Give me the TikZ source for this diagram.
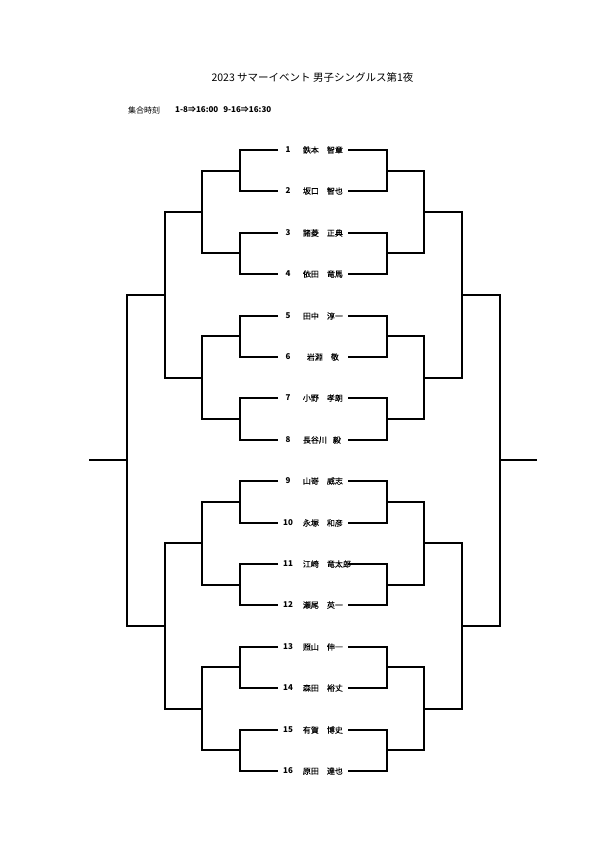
\documentclass[tikz,border=0pt]{standalone}
\usepackage{fontspec}
\setmainfont{Noto Sans CJK JP}
\newfontfamily\namefont[FakeBold=0.2]{Noto Sans CJK JP}
\begin{document}
\begin{tikzpicture}[x=1pt,y=-1pt,
  bracket/.style={line width=2.4pt, line join=miter},
  numtext/.style={inner sep=0pt, font=\fontsize{8}{9}\selectfont\bfseries},
  nametext/.style={inner sep=0pt, anchor=west, font=\namefont\fontsize{8}{9}\selectfont},
  titletext/.style={inner sep=0pt, font=\fontsize{10.5}{12}\selectfont},
  subtext/.style={inner sep=0pt, anchor=west, font=\fontsize{8}{9}\selectfont}]
\useasboundingbox (0,0) rectangle (600,849);
\fill[white] (0,0) rectangle (600,849);

% title and meeting times
\node[titletext] (title) at (312.5,77) {2023 サマーイベント 男子シングルス第1夜};
\node[subtext] (sub1) at (128,110) {集合時刻};
\node[subtext, font=\fontsize{8}{9}\selectfont\bfseries] (sub2) at (175,110) {1-8⇒16:00\hspace{5pt}9-16⇒16:30};

% players
\foreach \i/\sn/\gn/\dx/\gap in {
  1/鉄本/智章/0/8, 2/坂口/智也/0/8, 3/諸菱/正典/0/8, 4/依田/竜馬/0/8,
  5/田中/淳一/0/8, 6/岩淵/敬/4/8, 7/小野/孝朗/0/8, 8/長谷川/毅/0/6,
  9/山嵜/威志/0/8, 10/永塚/和彦/0/8, 11/江崎/竜太郎/0/8, 12/瀬尾/英一/0/8,
  13/照山/伸一/0/8, 14/森田/裕丈/0/8, 15/有賀/博史/0/8, 16/原田/達也/0/8} {
  \pgfmathsetmacro\yy{round(150+(\i-1)*41.4)}
  \node[numtext] (num\i) at (288,\yy) {\i};
  \node[nametext] (name\i) at (302.7+\dx,\yy) {\sn\hspace{\gap pt}\gn};
  \coordinate (L\i) at (278,\yy);
  \coordinate (R\i) at (348,\yy);
}

% round 1
\foreach \k in {1,...,8} {
  \pgfmathtruncatemacro\a{2*\k-1}
  \pgfmathtruncatemacro\b{2*\k}
  \pgfmathsetmacro\ym{round(150+(2*\k-1.5)*41.4)}
  \coordinate (la\k) at (240,\ym);
  \coordinate (ra\k) at (387,\ym);
  \draw[bracket] (L\a) -| (la\k) |- (L\b);
  \draw[bracket] (R\a) -| (ra\k) |- (R\b);
}
% round 2
\foreach \k in {1,...,4} {
  \pgfmathtruncatemacro\a{2*\k-1}
  \pgfmathtruncatemacro\b{2*\k}
  \pgfmathsetmacro\ym{round(150+(4*\k-2.5)*41.4)}
  \coordinate (lb\k) at (202,\ym);
  \coordinate (rb\k) at (424,\ym);
  \draw[bracket] (la\a) -| (lb\k) |- (la\b);
  \draw[bracket] (ra\a) -| (rb\k) |- (ra\b);
}
% round 3
\foreach \k in {1,2} {
  \pgfmathtruncatemacro\a{2*\k-1}
  \pgfmathtruncatemacro\b{2*\k}
  \pgfmathsetmacro\ym{round(150+(8*\k-4.5)*41.4)}
  \coordinate (lc\k) at (165,\ym);
  \coordinate (rc\k) at (462,\ym);
  \draw[bracket] (lb\a) -| (lc\k) |- (lb\b);
  \draw[bracket] (rb\a) -| (rc\k) |- (rb\b);
}
% semifinal and final stubs
\coordinate (ld) at (127,460);
\coordinate (rd) at (500,460);
\coordinate (lf) at (89,460);
\coordinate (rf) at (537,460);
\draw[bracket] (lc1) -| (ld) |- (lc2);
\draw[bracket] (rc1) -| (rd) |- (rc2);
\draw[bracket] (ld) -- (lf);
\draw[bracket] (rd) -- (rf);
\end{tikzpicture}
\end{document}
